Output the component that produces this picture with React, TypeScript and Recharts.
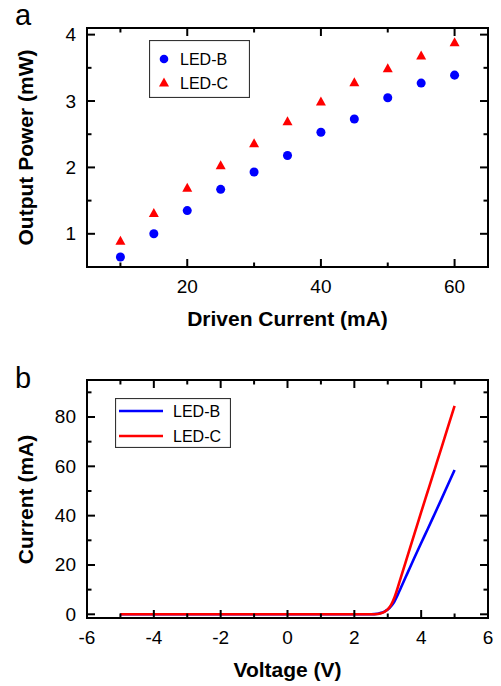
import React from 'react';
import { ScatterChart, Scatter, LineChart, Line, XAxis, YAxis } from 'recharts';

// panel a: output power vs driven current
const CURRENT = [10, 15, 20, 25, 30, 35, 40, 45, 50, 55, 60];
const LED_B_POWER = [0.65, 1.0, 1.35, 1.67, 1.93, 2.18, 2.53, 2.73, 3.05, 3.27, 3.39];
const LED_C_POWER = [0.9, 1.32, 1.7, 2.04, 2.37, 2.7, 3.0, 3.29, 3.5, 3.69, 3.89];
const A_X_TICKS = [10, 20, 30, 40, 50, 60];
const A_Y_TICKS = [1, 1.5, 2, 2.5, 3, 3.5, 4];

// panel b: I-V curves
const VOLTAGE = [-5, -4, -3, -2, -1, 0, 1, 2, 2.5, 2.7, 2.8, 2.9, 3.0, 3.1, 3.2, 3.4, 3.6, 3.8, 4.0, 4.2, 4.4, 4.6, 4.8, 5.0];
const LED_B_CURRENT = [0, 0, 0, 0, 0, 0, 0, 0, 0, 0.2, 0.6, 1.1, 1.9, 3.3, 5.2, 11.0, 17.0, 23.0, 28.9, 34.7, 40.6, 46.5, 52.5, 58.5];
const LED_C_CURRENT = [0, 0, 0, 0, 0, 0, 0, 0, 0, 0.1, 0.4, 1.0, 2.0, 3.8, 6.8, 15.3, 24.0, 32.7, 41.4, 50.0, 58.6, 67.2, 75.9, 84.5];
const B_X_TICKS = [-6, -5, -4, -3, -2, -1, 0, 1, 2, 3, 4, 5, 6];
const B_Y_TICKS = [0, 10, 20, 30, 40, 50, 60, 70, 80, 90];

const BLUE = '#0000ff';
const RED = '#ff0000';
const FONT = '"Liberation Sans", Arial, sans-serif';

const W = 501;
const A_H = 340;
const B_H = 346;
const A_MARGIN = { top: 28, right: 13, left: 0, bottom: 0 };
const B_MARGIN = { top: 40, right: 13, left: 0, bottom: 0 };
const Y_AXIS_W = 87;
const A_X_AXIS_H = 73;
const B_X_AXIS_H = 68;

const ledBData = CURRENT.map((c, i) => ({ current: c, power: LED_B_POWER[i] }));
const ledCData = CURRENT.map((c, i) => ({ current: c, power: LED_C_POWER[i] }));
const ivData = VOLTAGE.map((v, i) => ({ v, b: LED_B_CURRENT[i], c: LED_C_CURRENT[i] }));

// inward ticks; bottom ticks repeated on the top edge, left ticks on the right edge
function BoxTick(props: any) {
  const { x, y, payload, side, isMajor, mirrorAt } = props;
  const major = isMajor(payload.value);
  const len = major ? 8 : 4.5;

  if (side === 'bottom') {
    return (
      <g>
        <line x1={x} y1={y} x2={x} y2={y - len} stroke="black" strokeWidth={2} />
        <line x1={x} y1={mirrorAt} x2={x} y2={mirrorAt + len} stroke="black" strokeWidth={2} />
        {major && (
          <text x={x} y={y + 19} textAnchor="middle" dominantBaseline="central" fontSize={19} fill="#000" fontFamily={FONT}>
            {payload.value}
          </text>
        )}
      </g>
    );
  }
  return (
    <g>
      <line x1={x} y1={y} x2={x + len} y2={y} stroke="black" strokeWidth={2} />
      <line x1={mirrorAt} y1={y} x2={mirrorAt - len} y2={y} stroke="black" strokeWidth={2} />
      {major && (
        <text x={x - 11} y={y} textAnchor="end" dominantBaseline="central" fontSize={19} fill="#000" fontFamily={FONT}>
          {payload.value}
        </text>
      )}
    </g>
  );
}

const tickFor = (side: string, isMajor: (v: number) => boolean, mirrorAt: number) => (p: any) => (
  <BoxTick {...p} side={side} isMajor={isMajor} mirrorAt={mirrorAt} />
);

function ScatterLegend() {
  return (
    <svg width={101} height={58} style={{ display: 'block' }}>
      <rect x={0.5} y={0.5} width={100} height={57} fill="#fff" stroke="#333" strokeWidth={1.2} />
      <circle cx={15} cy={19} r={4.3} fill={BLUE} />
      <polygon points="15,37.5 20,46.5 10,46.5" fill={RED} />
      <text x={31} y={19} dominantBaseline="central" fontSize={16} fontFamily={FONT}>LED-B</text>
      <text x={31} y={43} dominantBaseline="central" fontSize={16} fontFamily={FONT}>LED-C</text>
    </svg>
  );
}

function LineLegend() {
  return (
    <svg width={116} height={50} style={{ display: 'block' }}>
      <rect x={0.5} y={0.5} width={115} height={49} fill="#fff" stroke="#333" strokeWidth={1.2} />
      <line x1={4} x2={48} y1={13} y2={13} stroke={BLUE} strokeWidth={2.6} />
      <line x1={4} x2={48} y1={38} y2={38} stroke={RED} strokeWidth={2.6} />
      <text x={58} y={13} dominantBaseline="central" fontSize={16} fontFamily={FONT}>LED-B</text>
      <text x={58} y={38} dominantBaseline="central" fontSize={16} fontFamily={FONT}>LED-C</text>
    </svg>
  );
}

const titleCss: React.CSSProperties = {
  position: 'absolute',
  fontSize: 21,
  fontWeight: 700,
  lineHeight: '21px',
  textAlign: 'center',
  whiteSpace: 'nowrap',
};

// plot frame as a plain bordered box over the plot area
function Frame({ top, bottom, left, right }: { top: number; bottom: number; left: number; right: number }) {
  return (
    <div
      style={{
        position: 'absolute',
        left: left - 1,
        top: top - 1,
        width: right - left + 2,
        height: bottom - top + 2,
        boxSizing: 'border-box',
        border: '2px solid black',
        pointerEvents: 'none',
      }}
    />
  );
}

export default function App() {
  const aTop = A_MARGIN.top;
  const aBottom = A_H - A_X_AXIS_H;
  const aRight = W - A_MARGIN.right;
  const bTop = B_MARGIN.top;
  const bBottom = B_H - B_X_AXIS_H;
  const bRight = W - B_MARGIN.right;

  return (
    <div style={{ position: 'absolute', left: 0, top: 0, width: W, height: A_H + B_H, background: '#fff', fontFamily: FONT }}>
      <div style={{ position: 'absolute', left: 15, top: 1, fontSize: 29, lineHeight: 1 }}>a</div>
      <div style={{ position: 'absolute', left: 15, top: 364, fontSize: 29, lineHeight: 1 }}>b</div>

      <div style={{ position: 'absolute', left: 0, top: 0 }}>
        <ScatterChart width={W} height={A_H} margin={A_MARGIN}>
          <XAxis
            type="number"
            dataKey="current"
            domain={[5, 65]}
            ticks={A_X_TICKS}
            interval={0}
            height={A_X_AXIS_H}
            tickSize={0}
            tickMargin={0}
            stroke="black"
            tickLine={false}
            tick={tickFor('bottom', (v) => v % 20 === 0, aTop)}
          />
          <YAxis
            type="number"
            dataKey="power"
            domain={[0.5, 4.1]}
            ticks={A_Y_TICKS}
            interval={0}
            width={Y_AXIS_W}
            tickSize={0}
            tickMargin={0}
            stroke="black"
            tickLine={false}
            tick={tickFor('left', (v) => Number.isInteger(v), aRight)}
          />
          <Scatter name="LED-B" data={ledBData} fill={BLUE} isAnimationActive={false} />
          <Scatter
            name="LED-C"
            data={ledCData}
            fill={RED}
            isAnimationActive={false}
            shape={(p: any) => (
              <polygon points={`${p.cx},${p.cy - 4.6} ${p.cx + 5},${p.cy + 4.4} ${p.cx - 5},${p.cy + 4.4}`} fill={RED} />
            )}
          />
        </ScatterChart>
      </div>

      <div style={{ position: 'absolute', left: 0, top: A_H }}>
        <LineChart width={W} height={B_H} data={ivData} margin={B_MARGIN}>
          <XAxis
            type="number"
            dataKey="v"
            domain={[-6, 6]}
            ticks={B_X_TICKS}
            interval={0}
            height={B_X_AXIS_H}
            tickSize={0}
            tickMargin={0}
            stroke="black"
            tickLine={false}
            tick={tickFor('bottom', (v) => v % 2 === 0, bTop)}
          />
          <YAxis
            type="number"
            domain={[-1.5, 95]}
            ticks={B_Y_TICKS}
            interval={0}
            width={Y_AXIS_W}
            tickSize={0}
            tickMargin={0}
            stroke="black"
            tickLine={false}
            tick={tickFor('left', (v) => v % 20 === 0, bRight)}
          />
          <Line name="LED-B" type="monotone" dataKey="b" stroke={BLUE} strokeWidth={2.6} dot={false} isAnimationActive={false} />
          <Line name="LED-C" type="monotone" dataKey="c" stroke={RED} strokeWidth={2.6} dot={false} isAnimationActive={false} />
        </LineChart>
      </div>

      <Frame top={aTop} bottom={aBottom} left={Y_AXIS_W} right={aRight} />
      <Frame top={A_H + bTop} bottom={A_H + bBottom} left={Y_AXIS_W} right={bRight} />

      <div style={{ position: 'absolute', left: 149, top: 40 }}>
        <ScatterLegend />
      </div>
      <div style={{ position: 'absolute', left: 115, top: A_H + 58 }}>
        <LineLegend />
      </div>

      <div style={{ ...titleCss, left: Y_AXIS_W, width: aRight - Y_AXIS_W, top: 308 }}>Driven Current (mA)</div>
      <div
        style={{
          ...titleCss,
          width: aBottom - aTop,
          left: 25 - (aBottom - aTop) / 2,
          top: (aTop + aBottom) / 2 - 10.5,
          transform: 'rotate(-90deg)',
        }}
      >
        Output Power (mW)
      </div>
      <div style={{ ...titleCss, left: Y_AXIS_W, width: bRight - Y_AXIS_W, top: A_H + 319 }}>Voltage (V)</div>
      <div
        style={{
          ...titleCss,
          width: bBottom - bTop,
          left: 25 - (bBottom - bTop) / 2,
          top: A_H + (bTop + bBottom) / 2 - 10.5,
          transform: 'rotate(-90deg)',
        }}
      >
        Current (mA)
      </div>
    </div>
  );
}
